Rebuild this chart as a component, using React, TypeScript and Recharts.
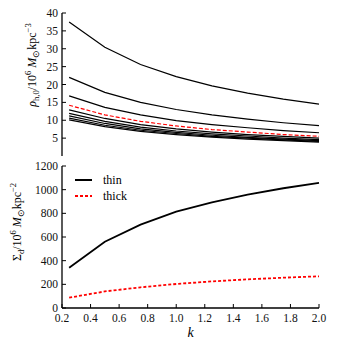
import React from 'react';
import { LineChart, Line, XAxis, YAxis, Legend } from 'recharts';

// k values shared by both panels
const kValues = [0.25, 0.5, 0.75, 1.0, 1.25, 1.5, 1.75, 2.0];

// top panel: halo central density, one curve per model
const rhoA = [37.5, 30.4, 25.6, 22.2, 19.6, 17.6, 15.9, 14.5];
const rhoB = [22.0, 17.8, 15.0, 13.0, 11.5, 10.3, 9.3, 8.5];
const rhoC = [16.8, 13.6, 11.5, 9.9, 8.8, 7.9, 7.1, 6.5];
const rhoRed = [14.2, 11.5, 9.7, 8.4, 7.4, 6.7, 6.0, 5.5];
const rhoD = [12.9, 10.5, 8.8, 7.6, 6.7, 6.0, 5.5, 5.0];
const rhoE = [11.9, 9.7, 8.1, 7.0, 6.2, 5.6, 5.0, 4.6];
const rhoF = [11.2, 9.1, 7.6, 6.6, 5.8, 5.2, 4.7, 4.3];
const rhoG = [10.6, 8.6, 7.2, 6.3, 5.5, 5.0, 4.5, 4.1];
const rhoH = [10.1, 8.2, 6.9, 6.0, 5.3, 4.7, 4.3, 3.9];

// bottom panel: disc surface density
const thinDisc = [340, 560, 705, 815, 893, 958, 1012, 1058];
const thickDisc = [87, 140, 175, 203, 225, 242, 256, 268];

const kTicks = [0.2, 0.4, 0.6, 0.8, 1.0, 1.2, 1.4, 1.6, 1.8, 2.0];
const rhoTicks = [0, 5, 10, 15, 20, 25, 30, 35, 40];
const sigmaTicks = [0, 200, 400, 600, 800, 1000, 1200];

const blackRho = { rhoA, rhoB, rhoC, rhoD, rhoE, rhoF, rhoG, rhoH };

const topData = kValues.map((k, i) => {
  const row: Record<string, number> = { k, rhoRed: rhoRed[i] };
  Object.entries(blackRho).forEach(([key, arr]) => {
    row[key] = arr[i];
  });
  return row;
});

const bottomData = kValues.map((k, i) => ({ k, thin: thinDisc[i], thick: thickDisc[i] }));

const FONT = '"Liberation Serif", "Times New Roman", serif';
const tickStyle = { fontFamily: FONT, fontSize: 11.5, fill: '#111' };
const axisLine = { stroke: '#000', strokeWidth: 1.3 };
const tickLine = { stroke: '#000', strokeWidth: 1 };

const fmtK = (v: number) => v.toFixed(1);

const TopYLabel = () => (
  <text
    x={36}
    y={65}
    transform="rotate(-90 36 65)"
    textAnchor="middle"
    fontFamily={FONT}
    fontSize={12}
    fill="#000"
  >
    <tspan fontStyle="italic">ρ</tspan>
    <tspan fontSize={8.5} dy={3}>h,0</tspan>
    <tspan dy={-3}>/10</tspan>
    <tspan fontSize={8.5} dy={-5}>6</tspan>
    <tspan dy={5} fontStyle="italic"> M</tspan>
    <tspan fontSize={8.5} dy={3}>⊙</tspan>
    <tspan dy={-3}>kpc</tspan>
    <tspan fontSize={8.5} dy={-5}>−3</tspan>
  </text>
);

const BottomYLabel = () => (
  <text
    x={21}
    y={62}
    transform="rotate(-90 21 62)"
    textAnchor="middle"
    fontFamily={FONT}
    fontSize={12}
    fill="#000"
  >
    <tspan>Σ</tspan>
    <tspan fontSize={8.5} dy={3}>d</tspan>
    <tspan dy={-3}>/10</tspan>
    <tspan fontSize={8.5} dy={-5}>6</tspan>
    <tspan dy={5} fontStyle="italic"> M</tspan>
    <tspan fontSize={8.5} dy={3}>⊙</tspan>
    <tspan dy={-3}>kpc</tspan>
    <tspan fontSize={8.5} dy={-5}>−2</tspan>
  </text>
);

const LegendBox = () => (
  <div style={{ fontFamily: FONT, fontSize: 12, color: '#000', lineHeight: '16px' }}>
    {[
      { label: 'thin', color: '#000', dash: undefined },
      { label: 'thick', color: '#ff0000', dash: '3 2' },
    ].map((item) => (
      <div key={item.label} style={{ display: 'flex', alignItems: 'center', height: 16 }}>
        <svg width={31} height={10}>
          <line x1={3} y1={5} x2={20} y2={5} stroke={item.color} strokeWidth={2} strokeDasharray={item.dash} />
        </svg>
        <span>{item.label}</span>
      </div>
    ))}
  </div>
);

export default function App() {
  return (
    <div style={{ position: 'absolute', left: 0, top: 0, width: 337, height: 356, background: '#fff' }}>
      <div style={{ position: 'absolute', left: 0, top: 0 }}>
        <LineChart width={337} height={160} data={topData} margin={{ top: 13, right: 18, bottom: 4, left: 0 }}>
          <XAxis
            dataKey="k"
            type="number"
            domain={[0.2, 2.0]}
            ticks={kTicks}
            tick={false}
            height={0}
            tickSize={-4}
            axisLine={axisLine}
            tickLine={tickLine}
          />
          <XAxis
            xAxisId="top"
            orientation="top"
            dataKey="k"
            type="number"
            domain={[0.2, 2.0]}
            ticks={kTicks}
            tick={false}
            height={0}
            tickSize={-4}
            axisLine={axisLine}
            tickLine={tickLine}
          />
          <YAxis
            type="number"
            domain={[0, 40]}
            ticks={rhoTicks}
            width={62}
            tickSize={-4}
            tickMargin={8}
            tick={tickStyle}
            axisLine={axisLine}
            tickLine={tickLine}
            label={{ content: () => <TopYLabel /> }}
          />
          <YAxis
            yAxisId="right"
            orientation="right"
            type="number"
            domain={[0, 40]}
            ticks={rhoTicks}
            width={0}
            tick={false}
            tickSize={-4}
            axisLine={axisLine}
            tickLine={tickLine}
          />
          {Object.keys(blackRho).map((key) => (
            <Line
              key={key}
              dataKey={key}
              stroke="#000"
              strokeWidth={1.2}
              dot={false}
              type="linear"
              isAnimationActive={false}
            />
          ))}
          <Line
            dataKey="rhoRed"
            stroke="#ff0000"
            strokeWidth={1.2}
            strokeDasharray="4 2"
            dot={false}
            type="linear"
            isAnimationActive={false}
          />
        </LineChart>
      </div>
      <div style={{ position: 'absolute', left: 0, top: 160 }}>
        <LineChart width={337} height={196} data={bottomData} margin={{ top: 6, right: 18, bottom: 0, left: 0 }}>
          <XAxis
            dataKey="k"
            type="number"
            domain={[0.2, 2.0]}
            ticks={kTicks}
            tickFormatter={fmtK}
            height={48}
            tickSize={-4}
            tickMargin={10}
            tick={tickStyle}
            axisLine={axisLine}
            tickLine={tickLine}
            label={{
              value: 'k',
              position: 'insideBottom',
              offset: 19,
              style: { fontFamily: FONT, fontSize: 14, fontStyle: 'italic', fill: '#000' },
            }}
          />
          <XAxis
            xAxisId="top"
            orientation="top"
            dataKey="k"
            type="number"
            domain={[0.2, 2.0]}
            ticks={kTicks}
            tick={false}
            height={0}
            tickSize={-4}
            axisLine={axisLine}
            tickLine={tickLine}
          />
          <YAxis
            type="number"
            domain={[0, 1200]}
            ticks={sigmaTicks}
            width={62}
            tickSize={-4}
            tickMargin={8}
            tick={tickStyle}
            axisLine={axisLine}
            tickLine={tickLine}
            label={{ content: () => <BottomYLabel /> }}
          />
          <YAxis
            yAxisId="right"
            orientation="right"
            type="number"
            domain={[0, 1200]}
            ticks={sigmaTicks}
            width={0}
            tick={false}
            tickSize={-4}
            axisLine={axisLine}
            tickLine={tickLine}
          />
          <Legend
            layout="vertical"
            align="center"
            verticalAlign="middle"
            wrapperStyle={{ left: 72, top: 12, width: 'auto' }}
            content={() => <LegendBox />}
          />
          <Line
            dataKey="thin"
            name="thin"
            stroke="#000"
            strokeWidth={1.8}
            dot={false}
            type="linear"
            isAnimationActive={false}
          />
          <Line
            dataKey="thick"
            name="thick"
            stroke="#ff0000"
            strokeWidth={1.8}
            strokeDasharray="3 2"
            dot={false}
            type="linear"
            isAnimationActive={false}
          />
        </LineChart>
      </div>
    </div>
  );
}
